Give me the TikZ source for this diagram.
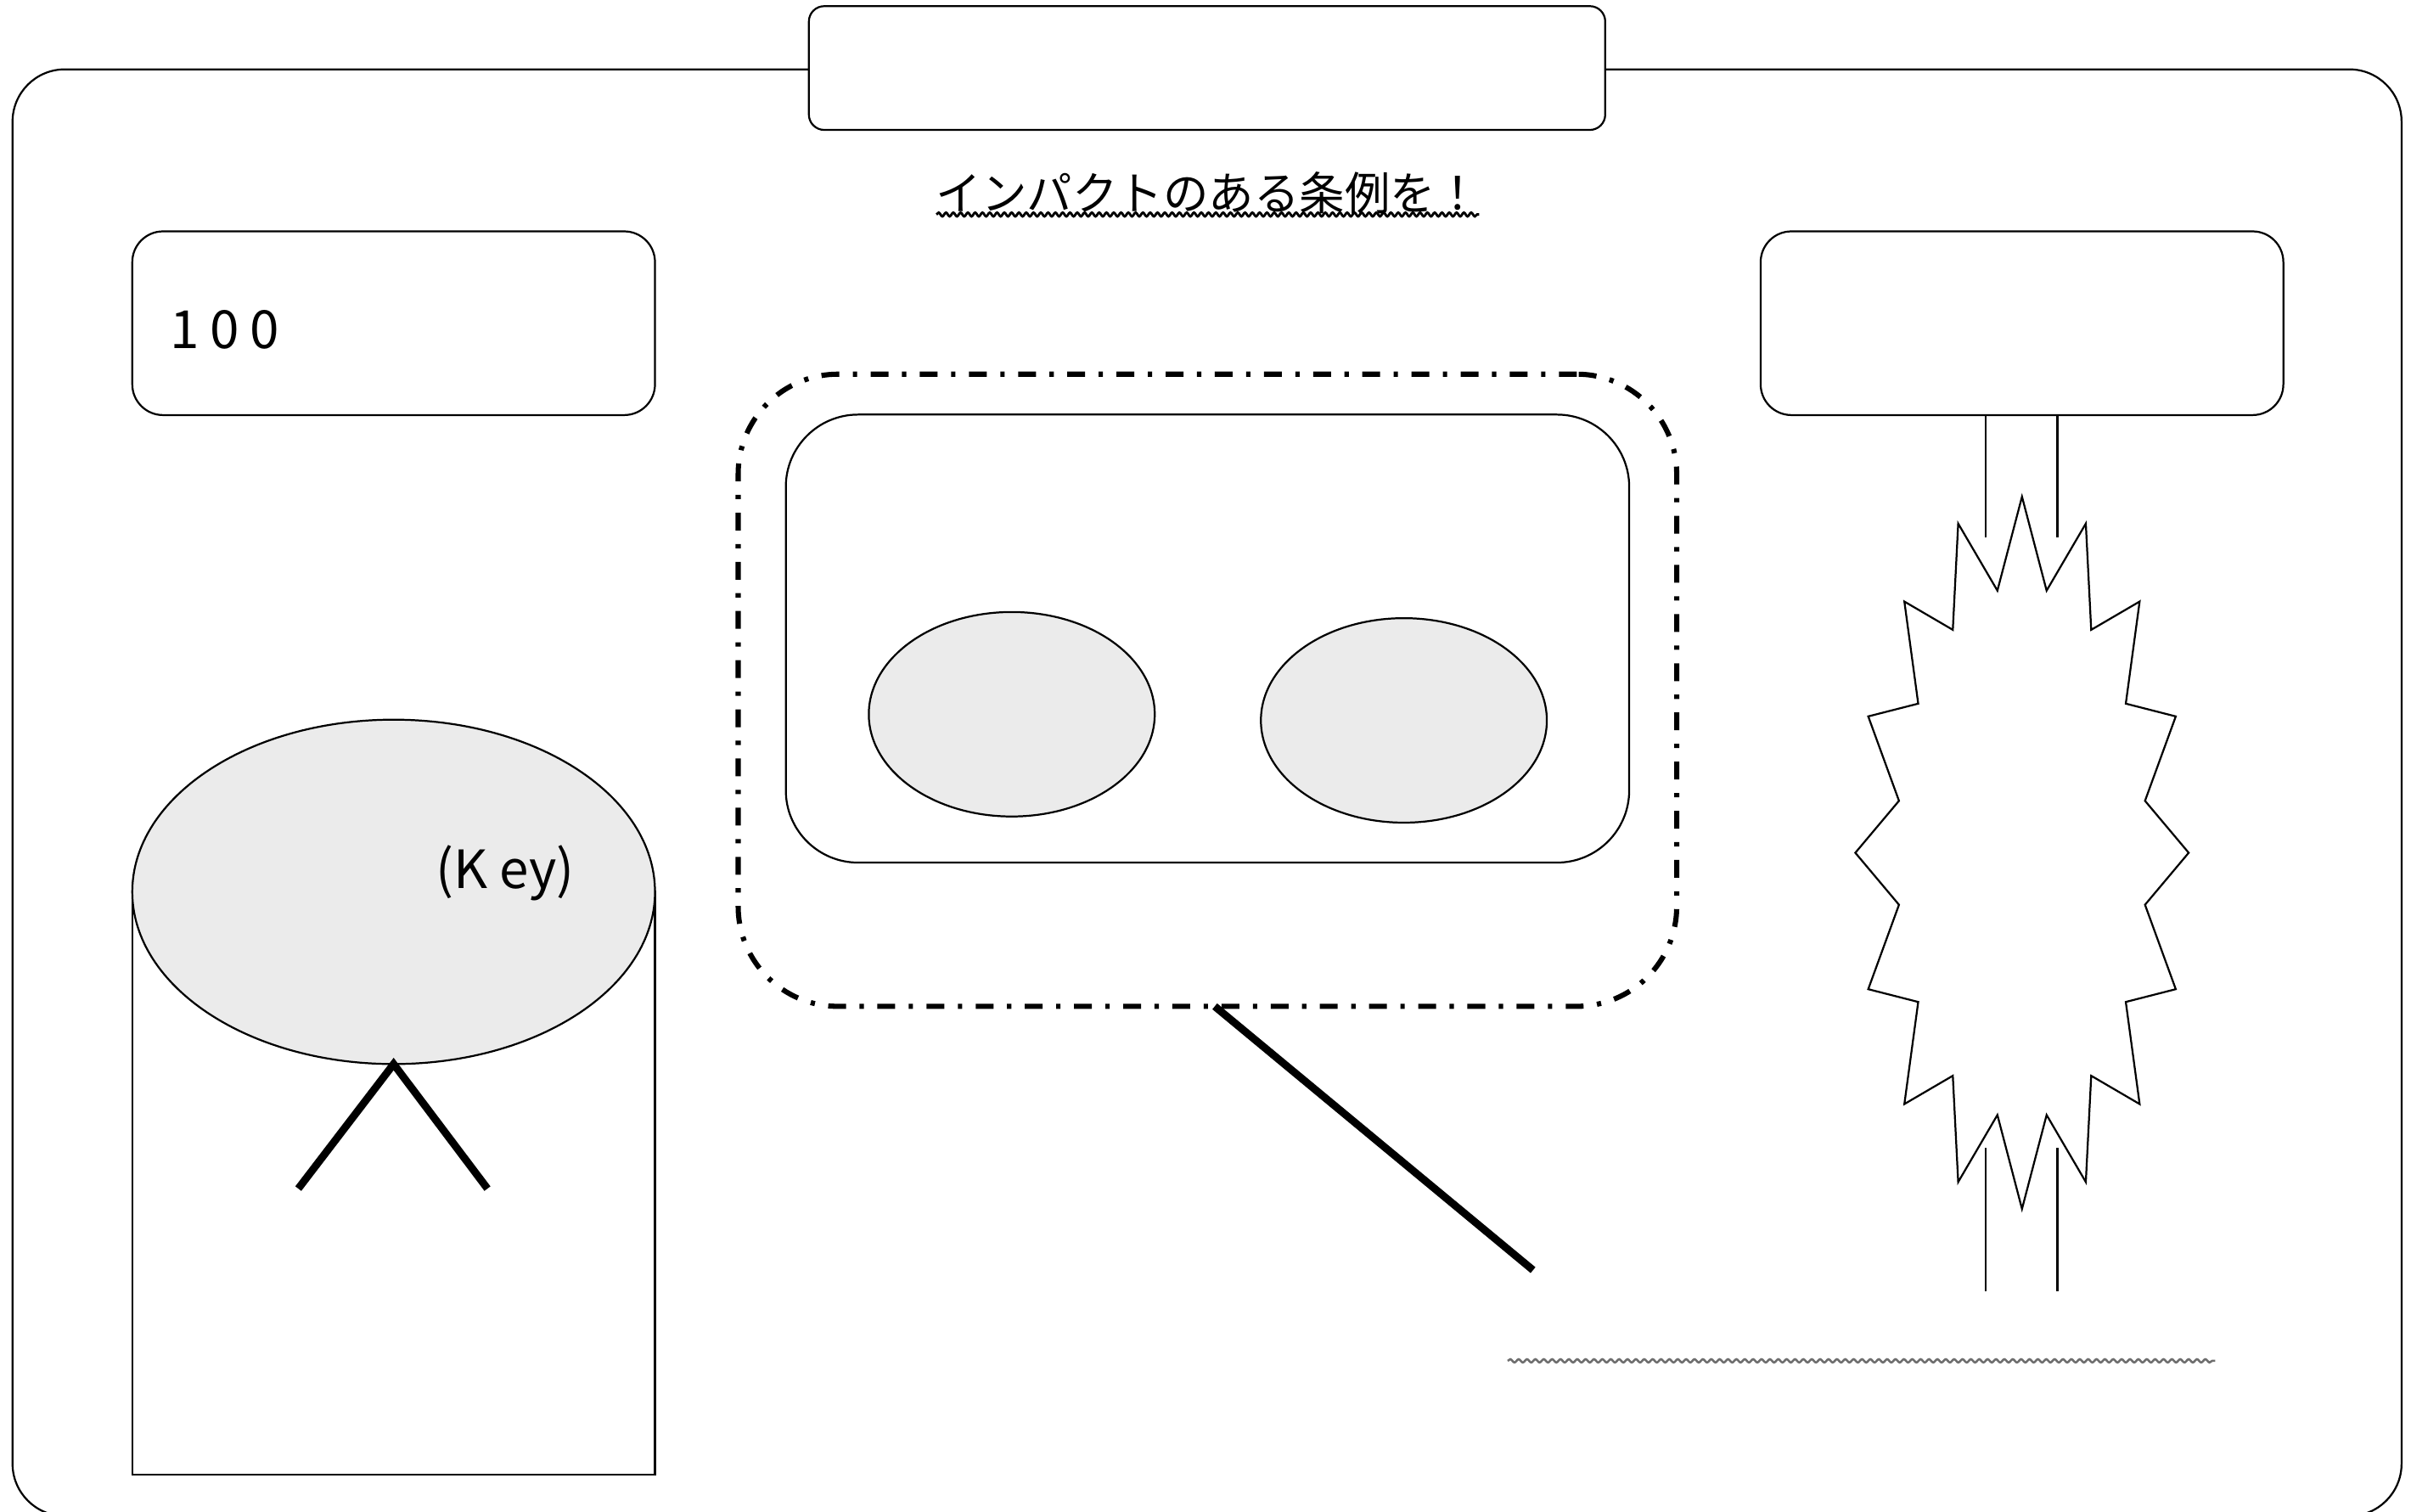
\documentclass[tikz,border=0pt]{standalone}
\usepackage{fontspec}
\setmainfont{Noto Sans CJK JP}
\newfontfamily\lblfont[LetterSpace=20]{Noto Sans CJK JP}
\newfontfamily\keyfont{Noto Sans CJK JP}
\usetikzlibrary{shapes.geometric,decorations.pathmorphing}
\definecolor{lgray}{RGB}{235,235,235}
\definecolor{wgray}{RGB}{110,110,110}
\tikzset{
  thinbox/.style={draw, line width=0.7pt, fill=white, inner sep=0pt, outer sep=0pt},
  thickline/.style={line width=2.8pt},
  dashdot/.style={draw, line width=1.9pt, dash pattern=on 6.6pt off 5pt on 1.6pt off 5pt, inner sep=0pt, outer sep=0pt},
  greyell/.style={draw, ellipse, line width=0.7pt, fill=lgray, inner sep=0pt, outer sep=0pt},
  lbl/.style={inner sep=0pt, font=\lblfont\fontsize{19.5pt}{22pt}\selectfont},
  keylbl/.style={inner sep=0pt, font=\keyfont\fontsize{19.5pt}{22pt}\selectfont},
  wavy/.style={decorate, decoration={snake, segment length=2.7pt, amplitude=0.7pt}, line width=0.9pt}
}
\begin{document}
\begin{tikzpicture}[x=0.02cm, y=-0.02cm, line width=0.7pt]
\useasboundingbox (0,0) rectangle (1568,983);
% outer frame
\node[thinbox, rounded corners=0.68cm, minimum width=31.08cm, minimum height=18.82cm] (outer) at (785,515.5) {};
% title box
\node[thinbox, rounded corners=0.2cm, minimum width=10.36cm, minimum height=1.61cm] (tbox) at (785,44.25) {};
% title text
\node[anchor=base, inner sep=0pt, font=\fontsize{16.8pt}{20pt}\selectfont] (title) at (786,136.5) {インパクトのある条例を！};
\coordinate (ula) at (609,139.5);
\coordinate (ulb) at (962,139.5);
\draw[wavy] (ula) -- (ulb);
% top boxes
\node[thinbox, rounded corners=0.4cm, minimum width=6.8cm, minimum height=2.39cm] (lbox) at (256,210.2) {};
\node[lbl, anchor=base west] (t100) at (110,226.5) {100};
\node[thinbox, rounded corners=0.4cm, minimum width=6.8cm, minimum height=2.39cm] (rbox) at (1315,210.2) {};
% dash-dot bubble
\node[dashdot, rounded corners=1.3cm, minimum width=12.21cm, minimum height=8.224cm] (dashbox) at (785.25,448.9) {};
\node[thinbox, rounded corners=0.94cm, minimum width=10.972cm, minimum height=5.828cm] (inner) at (785.3,415.3) {};
\node[greyell, minimum width=3.72cm, minimum height=2.66cm] (ell1) at (658,464.5) {};
\node[greyell, minimum width=3.72cm, minimum height=2.66cm] (ell2) at (913,468.5) {};
\coordinate (dend) at (997,826);
\draw[thickline] ([xshift=0.095cm]dashbox.south) -- (dend);
% cylinder
\node[thinbox, minimum width=6.8cm, minimum height=7.58cm] (cylbody) at (256,769.5) {};
\node[greyell, minimum width=6.8cm, minimum height=4.48cm] (key) at (256,580) {};
\node[keylbl, anchor=base west] (keytext) at (283,578) {(K ey)};
\coordinate (va) at (194,773);
\coordinate (vc) at (317,773);
\draw[thickline] (va) -- (key.south) -- (vc);
% starburst
\coordinate (star) at (1315,554.6);
\draw[fill=white] (1315,323) -- (1331,384.1) -- (1356.5,340.5) -- (1360,409.6) -- (1391.5,391.2) -- (1382.5,457.6) -- (1415,465.9) -- (1395,520.8) -- (1423.4,554.6) -- (1395,588.4) -- (1415,643.3) -- (1382.5,651.6) -- (1391.5,718) -- (1360,699.6) -- (1356.5,768.7) -- (1331,725.1) -- (1315,786.2) -- (1299,725.1) -- (1273.5,768.7) -- (1270,699.6) -- (1238.5,718) -- (1247.5,651.6) -- (1215,643.3) -- (1235,588.4) -- (1206.6,554.6) -- (1235,520.8) -- (1215,465.9) -- (1247.5,457.6) -- (1238.5,391.2) -- (1270,409.6) -- (1273.5,340.5) -- (1299,384.1) -- cycle;
\draw ([xshift=-0.47cm]rbox.south) -- ++(0,79.6);
\draw ([xshift=0.46cm]rbox.south) -- ++(0,79.6);
\coordinate (bl1a) at (1291.5,746.5);
\coordinate (bl1b) at (1291.5,840);
\coordinate (bl2a) at (1338,746.5);
\coordinate (bl2b) at (1338,840);
\draw (bl1a) -- (bl1b);
\draw (bl2a) -- (bl2b);
% grey wavy line
\coordinate (gwa) at (980.5,885);
\coordinate (gwb) at (1440.6,885);
\draw[wavy, draw=wgray, line width=0.8pt, decoration={segment length=3.1pt, amplitude=0.6pt}] (gwa) -- (gwb);
\end{tikzpicture}
\end{document}
